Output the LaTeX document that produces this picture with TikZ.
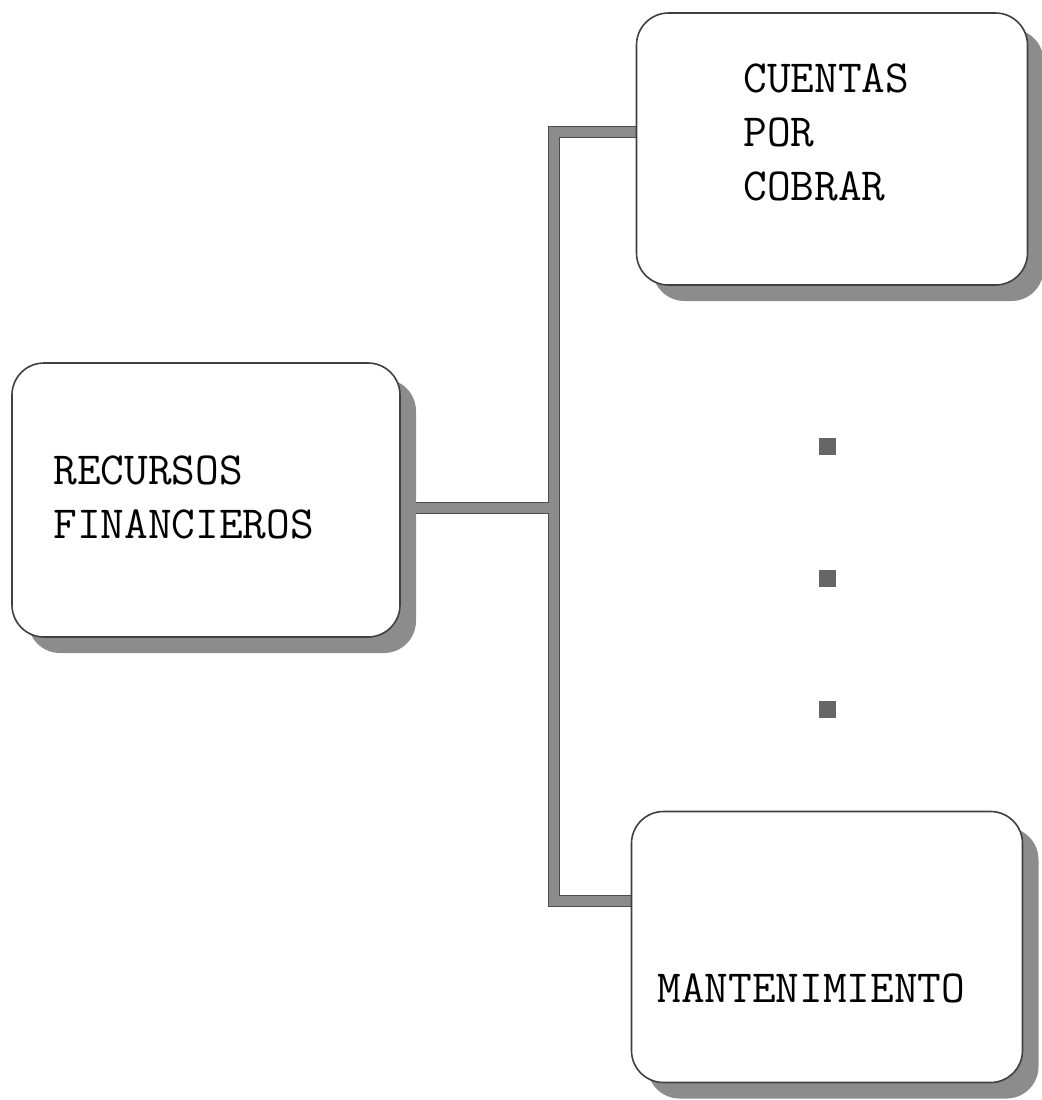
\documentclass[tikz,border=0pt]{standalone}
\usepackage{fontspec}
\usepackage{tikz}
\usetikzlibrary{shadows,backgrounds}
\tikzset{
    boxnode/.style={draw=black!75,line width=0.8pt,rounded corners=16pt,fill=white,
        drop shadow={shadow xshift=8pt,shadow yshift=-8pt,fill=black!45,opacity=1}},
    boxtext/.style={font=\ttfamily\fontsize{23}{27}\selectfont,align=left,inner sep=0pt,anchor=west},
    link/.style={draw=black!70,line width=0.6pt,double=black!45,double distance=4.6pt},
    dotnode/.style={fill=black!60,minimum size=8.5pt,inner sep=0pt}
}

\begin{document}
\begin{tikzpicture}[x=0.5pt,y=-0.5pt]
\useasboundingbox (0,0) rectangle (1042,1100);

% boxes
\node[boxnode,minimum width=194pt,minimum height=137pt]   (RF) at (206,500) {};
\node[boxnode,minimum width=195.5pt,minimum height=136pt] (CC) at (832,149) {};
\node[boxnode,minimum width=195.5pt,minimum height=135.5pt] (MT) at (827,947) {};

% texts
\node[boxtext] (RFt) at (53,497)  {RECURSOS\\FINANCIEROS};
\node[boxtext] (CCt) at (743,132) {CUENTAS\\POR\\COBRAR};
\node[boxtext] (MTt) at (657,988) {MANTENIMIENTO};

% dots
\node[dotnode] (D1) at (827,446) {};
\node[dotnode] (D2) at (827,578) {};
\node[dotnode] (D3) at (827,709) {};

% bus
\coordinate (J)  at (549,508);
\coordinate (TB) at (554,132);
\coordinate (BB) at (554,901);

\begin{pgfonlayer}{background}
\draw[link] (TB -| CC.west) -- (TB) -- (BB) -- (BB -| MT.west);
\draw[link] ([yshift=-4pt]RF.east) -- (J);
\end{pgfonlayer}
\end{tikzpicture}
\end{document}
